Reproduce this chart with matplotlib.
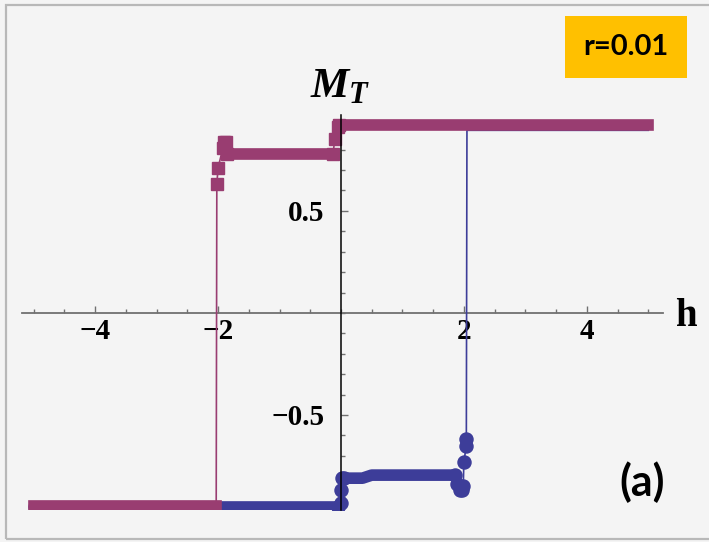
import matplotlib.pyplot as plt
from matplotlib.patches import Rectangle
from matplotlib.ticker import MultipleLocator, FixedLocator

# sweep up in h (blue circles)
up_h = [-5.0, -0.05, 0.0, 0.0, 0.02, 0.05, 0.35, 0.5, 1.85, 1.88, 1.93, 1.97, 1.99, 2.0, 2.04, 2.04, 2.05, 5.0]
up_m = [-0.95, -0.95, -0.93, -0.87, -0.81, -0.81, -0.81, -0.795, -0.795, -0.84, -0.87, -0.87, -0.85, -0.73, -0.65, -0.62, 0.895, 0.895]
up_flat = [(0, 1), (5, 8)]          # index ranges drawn as dense plateaus
up_marks = [1, 2, 3, 4, 5, 8, 9, 10, 11, 12, 13, 14, 15]

# sweep down in h (purple squares)
down_h = [5.0, -0.03, -0.05, -0.1, -0.13, -1.85, -1.87, -1.90, -1.92, -2.0, -2.02, -2.03, -5.0]
down_m = [0.92, 0.92, 0.91, 0.85, 0.78, 0.78, 0.84, 0.84, 0.81, 0.71, 0.63, -0.945, -0.945]
down_flat = [(0, 1), (4, 5), (11, 12)]
down_marks = [1, 2, 3, 4, 5, 6, 7, 8, 9, 10]

blue = '#3d3d99'
purple = '#993d71'
bg = '#f4f4f4'

fig = plt.figure(figsize=(7.09, 5.42), dpi=100, facecolor=bg)
fig.patches.append(Rectangle((6 / 709, 3 / 542), 1.1, 534 / 542, transform=fig.transFigure,
                             facecolor='none', edgecolor='#b8b8b8', lw=1.6, zorder=0))

ax = fig.add_axes([22 / 709, 32 / 542, 641 / 709, 395 / 542])
ax.set_facecolor(bg)
ax.set_xlim(-5.19, 5.24)
ax.set_ylim(-0.966, 0.97)


def draw(h, m, flat, marks, color, marker, cap):
    ax.plot(h, m, color=color, lw=1.2, zorder=3)
    for a, b in flat:
        ax.plot(h[a:b + 1], m[a:b + 1], color=color, lw=8.4, solid_capstyle=cap, zorder=3)
    ax.plot([h[i] for i in marks], [m[i] for i in marks], ls='none', marker=marker,
            ms=9.4 if marker == 'o' else 8.8, color=color, mec=color, zorder=3)


draw(up_h, up_m, up_flat, up_marks, blue, 'o', 'round')
draw(down_h, down_m, down_flat, down_marks, purple, 's', 'projecting')

# axes through the origin
for side in ['top', 'right']:
    ax.spines[side].set_visible(False)
ax.spines['left'].set_position('zero')
ax.spines['bottom'].set_position('zero')
ax.spines['left'].set_color('black')
ax.spines['left'].set_linewidth(1.1)
ax.spines['bottom'].set_color('#707070')
ax.spines['bottom'].set_linewidth(1.3)
ax.spines['left'].set_zorder(4)

ax.xaxis.set_major_locator(FixedLocator([-4, -2, 2, 4]))
ax.xaxis.set_minor_locator(MultipleLocator(0.5))
ax.yaxis.set_major_locator(FixedLocator([-0.5, 0.5]))
ax.yaxis.set_minor_locator(MultipleLocator(0.1))
ax.set_xticklabels(['\u22124', '\u22122', '2', '4'])
ax.set_yticklabels(['\u22120.5', '0.5'])

for lab in ax.get_xticklabels() + ax.get_yticklabels():
    lab.set_fontfamily('Liberation Serif')
    lab.set_fontweight('bold')
    lab.set_fontsize(21)
ax.tick_params(which='major', direction='in', length=5, width=1, color='#707070')
ax.tick_params(which='minor', direction='in', length=3, width=1, color='#707070')
ax.tick_params(axis='x', which='major', pad=4)
ax.tick_params(axis='y', which='major', pad=12)

fig.text(675 / 709, 1 - 326 / 542, 'h', family='Liberation Serif', weight='bold', size=28,
         ha='left', va='baseline')
fig.text(311 / 709, 1 - 97 / 542, 'M', family='Liberation Serif', weight='bold',
         style='italic', size=31, ha='left', va='baseline')
fig.text(349 / 709, 1 - 103 / 542, 'T', family='Liberation Serif', weight='bold',
         style='italic', size=22, ha='left', va='baseline')

fig.text(626 / 709, 1 - 47 / 542, 'r=0.01', family='Lato', weight='bold', size=21,
         ha='center', va='center',
         bbox=dict(boxstyle='square,pad=0.62', facecolor='#ffc000', edgecolor='none'))
fig.text(642 / 709, 1 - 482 / 542, '(a)', family='Lato', weight='bold', size=31,
         ha='center', va='center')

fig.savefig('out.png', dpi=100, facecolor=bg)
